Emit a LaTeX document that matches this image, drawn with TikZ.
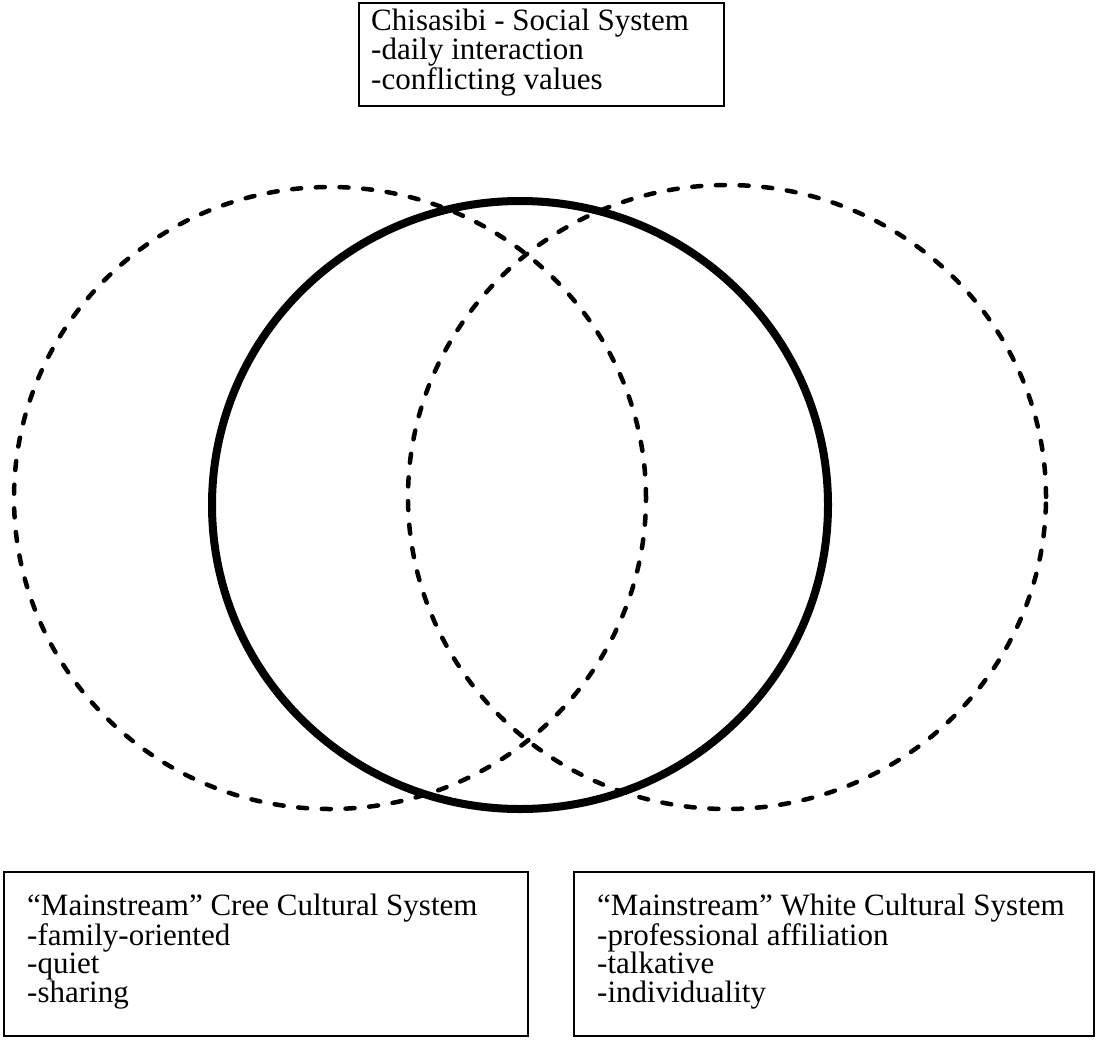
\documentclass[tikz,border=0pt]{standalone}
\usepackage{fontspec}
\setmainfont{Liberation Serif}
\tikzset{
  dashring/.style={line width=4.5pt, dash pattern=on 9pt off 14.7pt, line cap=round},
  solidring/.style={line width=8pt},
  boxline/.style={line width=2.5pt},
  toptext/.style={anchor=north west, align=left, inner sep=0pt, font=\fontsize{31}{27}\selectfont},
  boxtext/.style={anchor=north west, align=left, inner sep=0pt, font=\fontsize{31}{28.5}\selectfont}
}
\begin{document}
\begin{tikzpicture}[x=1pt,y=-1pt]
\useasboundingbox (0,0) rectangle (1099,1049);
% rings
\draw[dashring] (330,498) ellipse [x radius=316pt, y radius=311pt];
\draw[dashring] (727,497) ellipse [x radius=319pt, y radius=312pt];
\draw[solidring] (520,505) ellipse [x radius=308pt, y radius=304pt];
% boxes
\draw[boxline] (359,3) rectangle (724,106);
\node[toptext] (social) at (371,9) {Chisasibi - Social System\\-daily interaction\\-conflicting values};
\draw[boxline] (4,872) rectangle (528,1036);
\node[boxtext] (cree) at (27,894) {“Mainstream” Cree Cultural System\\-family-oriented\\-quiet\\-sharing};
\draw[boxline] (574,872) rectangle (1094,1036);
\node[boxtext] (white) at (597,894) {“Mainstream” White Cultural System\\-professional affiliation\\-talkative\\-individuality};
\end{tikzpicture}
\end{document}
